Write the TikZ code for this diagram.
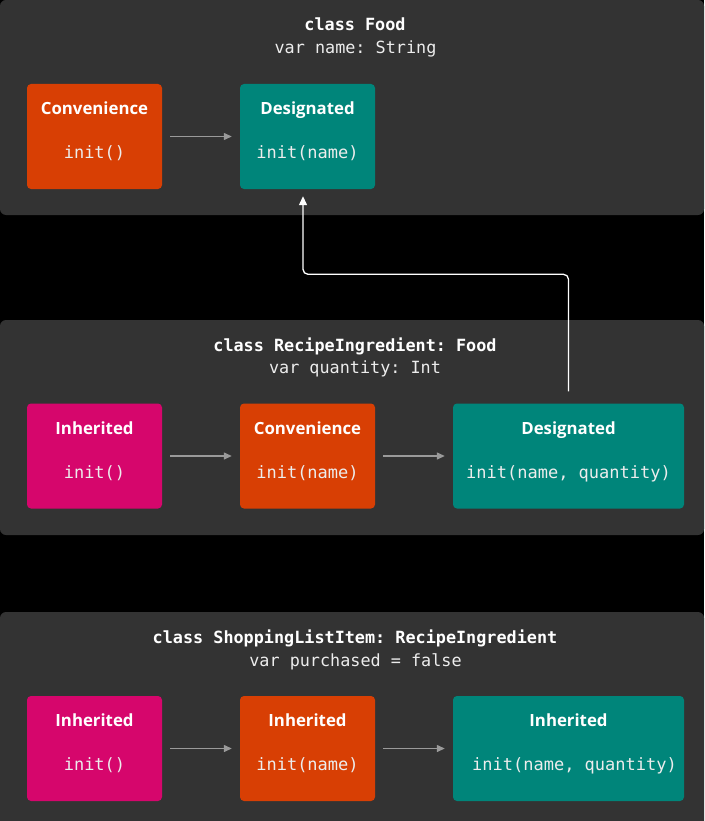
\documentclass[tikz,border=0pt]{standalone}
\usepackage{fontspec}
\setmainfont{Open Sans}
\setmonofont{DejaVu Sans Mono}
\usetikzlibrary{arrows.meta}
\definecolor{panelc}{HTML}{333333}
\definecolor{orangec}{HTML}{D83F04}
\definecolor{tealc}{HTML}{00857A}
\definecolor{magc}{HTML}{D6066C}
\definecolor{arrc}{HTML}{9A9A9A}
\tikzset{
  panelbox/.style={fill=panelc, rounded corners=6pt},
  initbox/.style={rectangle, rounded corners=4pt, minimum width=135pt, minimum height=105pt, inner sep=0pt},
  widebox/.style={initbox, minimum width=231pt},
  boxtitle/.style={text=white, font=\fontsize{16.8}{19}\selectfont\bfseries, inner sep=0pt, anchor=base},
  boxcode/.style={text=white!93!black, font=\fontsize{17}{20}\selectfont\ttfamily, inner sep=0pt, anchor=base},
  classtitle/.style={text=white, font=\fontsize{16.8}{20}\selectfont\ttfamily\bfseries, inner sep=0pt, anchor=base},
  classvar/.style={text=white!93!black, font=\fontsize{16.8}{20}\selectfont\ttfamily, inner sep=0pt, anchor=base},
  grayarrow/.style={draw=arrc, line width=1.3pt, -{Triangle[length=8pt,width=7pt]}},
  whiteconn/.style={draw=white, line width=1.3pt, rounded corners=5pt, -{Triangle[length=9pt,width=8pt]}}
}
\begin{document}
\begin{tikzpicture}[x=1pt,y=-1pt]
\useasboundingbox (0,0) rectangle (704,821);
\fill[black] (0,0) rectangle (704,821);
% panels
\fill[panelbox] (0,0) rectangle (704,215);
\fill[panelbox] (0,320) rectangle (704,535);
\fill[panelbox] (0,612) rectangle (704,830);

% ---------- Panel 1 ----------
\node[classtitle] (t1) at (355,31) {class Food};
\node[classvar] (v1) at (355.5,54) {var name: String};
\node[initbox, fill=orangec] (fc) at (94.5,136.5) {};
\node[initbox, fill=tealc] (fd) at (307.5,136.5) {};
\node[boxtitle] (fct) at ([yshift=-31pt]fc.north) {Convenience};
\node[boxcode] (fcc) at ([yshift=-75pt]fc.north) {init()};
\node[boxtitle] (fdt) at ([yshift=-31pt]fd.north) {Designated};
\node[boxcode] (fdc) at ([yshift=-75pt]fd.north) {init(name)};
\draw[grayarrow] ([xshift=8pt]fc.east) -- ([xshift=-8pt]fd.west);

% ---------- Panel 2 ----------
\node[classtitle] (t2) at (355,351) {class RecipeIngredient: Food};
\node[classvar] (v2) at (355,373) {var quantity: Int};
\node[initbox, fill=magc] (ri) at (94.5,456) {};
\node[initbox, fill=orangec] (rc) at (307.5,456) {};
\node[widebox, fill=tealc] (rd) at (568.5,456) {};
\node[boxtitle] (rit) at ([yshift=-31pt]ri.north) {Inherited};
\node[boxcode] (ric) at ([yshift=-75pt]ri.north) {init()};
\node[boxtitle] (rct) at ([yshift=-31pt]rc.north) {Convenience};
\node[boxcode] (rcc) at ([yshift=-75pt]rc.north) {init(name)};
\node[boxtitle] (rdt) at ([yshift=-31pt]rd.north) {Designated};
\node[boxcode] (rdc) at ([yshift=-75pt]rd.north) {init(name, quantity)};
\draw[grayarrow] ([xshift=8pt]ri.east) -- ([xshift=-8pt]rc.west);
\draw[grayarrow] ([xshift=8pt]rc.east) -- ([xshift=-8pt]rd.west);

% ---------- Panel 3 ----------
\node[classtitle] (t3) at (355,643) {class ShoppingListItem: RecipeIngredient};
\node[classvar] (v3) at (355.5,666) {var purchased = false};
\node[initbox, fill=magc] (si) at (94.5,748.5) {};
\node[initbox, fill=orangec] (sc) at (307.5,748.5) {};
\node[widebox, fill=tealc] (sd) at (568.5,748.5) {};
\node[boxtitle] (sit) at ([yshift=-31pt]si.north) {Inherited};
\node[boxcode] (sic) at ([yshift=-75pt]si.north) {init()};
\node[boxtitle] (sct) at ([yshift=-31pt]sc.north) {Inherited};
\node[boxcode] (scc) at ([yshift=-75pt]sc.north) {init(name)};
\node[boxtitle] (sdt) at ([yshift=-31pt]sd.north) {Inherited};
\node[boxcode] (sdc) at ([xshift=6pt,yshift=-75pt]sd.north) {init(name, quantity)};
\draw[grayarrow] ([xshift=8pt]si.east) -- ([xshift=-8pt]sc.west);
\draw[grayarrow] ([xshift=8pt]sc.east) -- ([xshift=-8pt]sd.west);

% ---------- long connector ----------
\draw[whiteconn] ([yshift=12pt]rd.north) -- ++(0,-117) -| ([xshift=-4.5pt,yshift=-7pt]fd.south);
\end{tikzpicture}
\end{document}
